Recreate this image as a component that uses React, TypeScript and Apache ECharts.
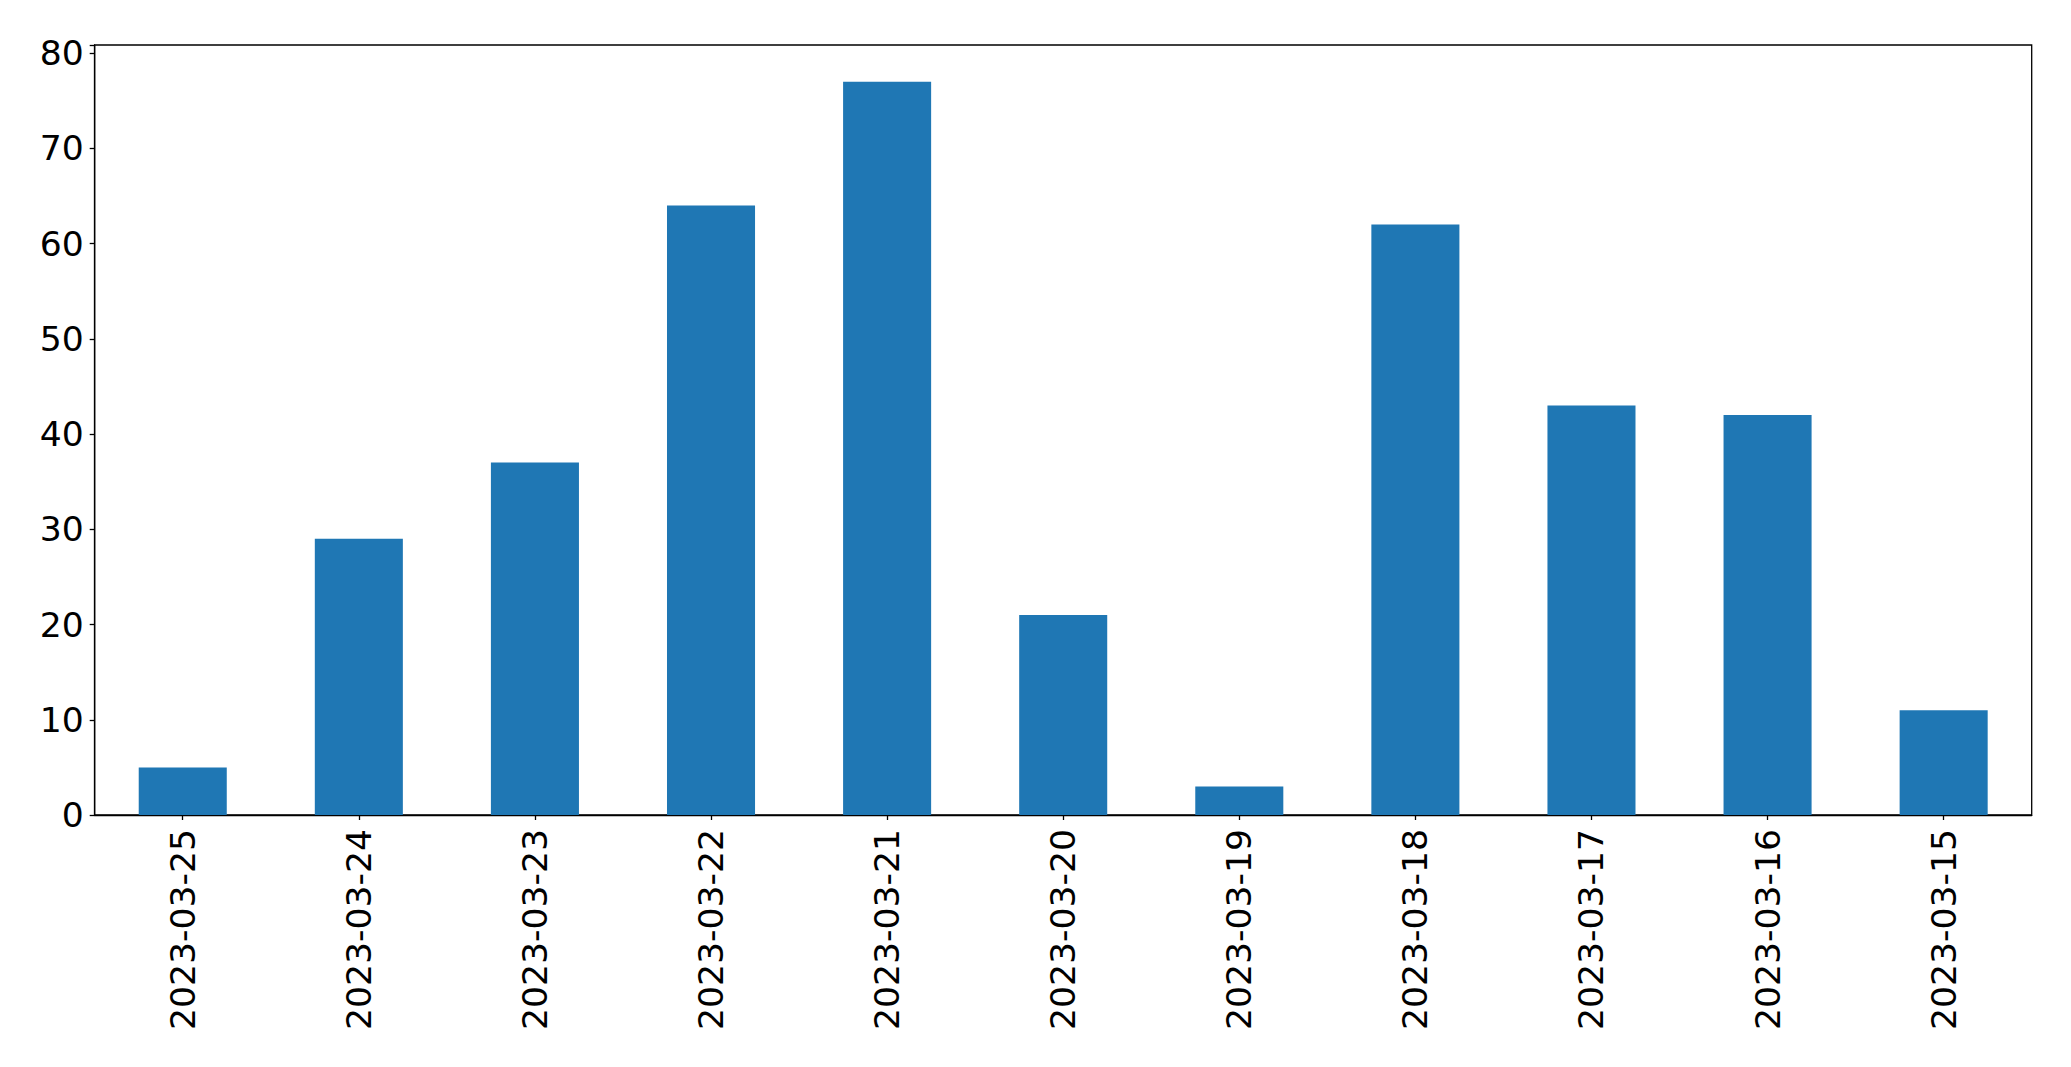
import React, { useEffect, useRef } from "react";
import * as echarts from "echarts";

const categories = [
  "2023-03-25", "2023-03-24", "2023-03-23", "2023-03-22", "2023-03-21", "2023-03-20",
  "2023-03-19", "2023-03-18", "2023-03-17", "2023-03-16", "2023-03-15",
];
const values = [5, 29, 37, 64, 77, 21, 3, 62, 43, 42, 11];
const yTicks = [0, 10, 20, 30, 40, 50, 60, 70, 80];

export default function App() {
  const ref = useRef<HTMLDivElement>(null);
  useEffect(() => {
    const chart = echarts.init(ref.current!, undefined, { renderer: "svg" });
    const font = "DejaVu Sans";
    chart.setOption({
      animation: false,
      backgroundColor: "#ffffff",
      grid: {
        left: 94.7,
        right: 39.3,
        top: 45,
        bottom: 252,
        show: true,
        borderColor: "#000000",
        borderWidth: 1.3,
        backgroundColor: "transparent",
      },
      xAxis: {
        type: "category",
        data: categories,
        boundaryGap: true,
        axisLine: { show: true, lineStyle: { color: "#000", width: 1.3 } },
        axisTick: { show: true, alignWithLabel: true, length: 5, lineStyle: { color: "#000", width: 1.3 } },
        axisLabel: {
          rotate: 90,
          interval: 0,
          margin: 14,
          color: "#000",
          fontSize: 34.6,
          fontFamily: font,
        },
        splitLine: { show: false },
      },
      yAxis: {
        type: "value",
        min: 0,
        max: 80.85,
        interval: 10,
        axisLine: { show: true, lineStyle: { color: "#000", width: 1.3 } },
        axisTick: { show: true, length: 5, lineStyle: { color: "#000", width: 1.3 } },
        axisLabel: {
          margin: 11,
          color: "#000",
          fontSize: 34.6,
          fontFamily: font,
          formatter: (v: number) => (yTicks.includes(v) ? String(v) : ""),
        },
        splitLine: { show: false },
      },
      series: [
        {
          type: "bar",
          data: values,
          barWidth: "50%",
          itemStyle: { color: "#1f77b4" },
        },
      ],
    });
    return () => chart.dispose();
  }, []);
  return (
    <div
      ref={ref}
      style={{ position: "fixed", left: 0, top: 0, width: 2071, height: 1067, background: "#fff" }}
    />
  );
}
